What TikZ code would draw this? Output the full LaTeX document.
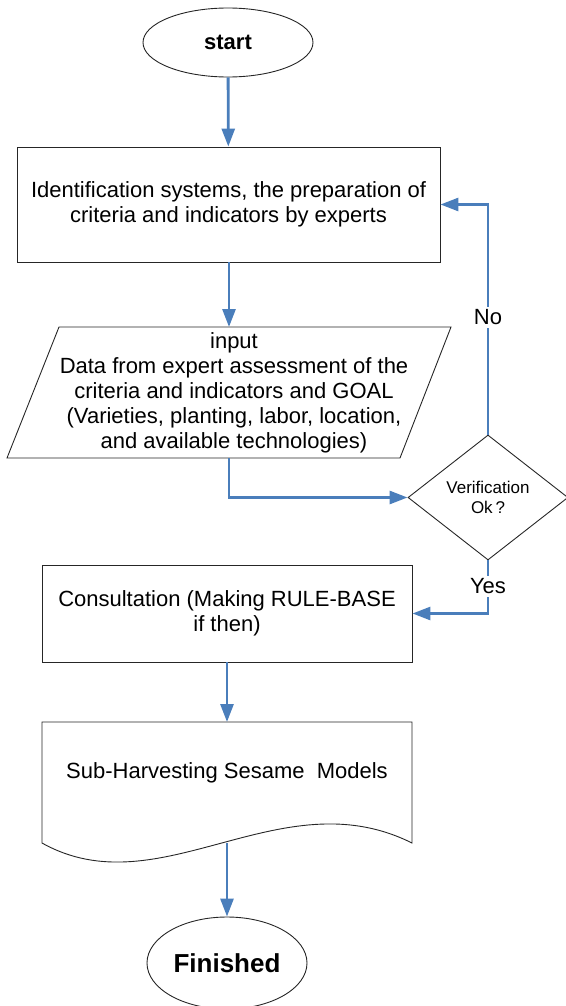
\documentclass[tikz,border=0pt]{standalone}
\usepackage{fontspec}
\setmainfont{Liberation Sans}
\usetikzlibrary{shapes.geometric,arrows.meta}
\definecolor{flowblue}{HTML}{4A7EBB}
\tikzset{
  outline/.style={draw=black!85, line width=0.9pt},
  box/.style={outline, rectangle, inner sep=0pt, align=center,
    font=\fontsize{22}{25.5}\selectfont},
  term/.style={outline, ellipse, inner sep=0pt, font=\bfseries},
  txt/.style={align=center, inner sep=0pt, font=\fontsize{22}{25}\selectfont},
  decision/.style={outline, diamond, inner sep=0pt, align=center,
    font=\fontsize{17}{19.5}\selectfont},
  flow/.style={draw=flowblue, line width=2.8pt,
    -{Triangle[length=18pt,width=13pt]}},
  lbl/.style={fill=white, inner sep=3pt, font=\fontsize{22}{25}\selectfont}
}
\begin{document}
\begin{tikzpicture}[x=1pt, y=-1pt]
\useasboundingbox (0,0) rectangle (565,1006);

% terminals
\node[term, minimum width=170pt, minimum height=69pt,
      font=\bfseries\fontsize{22}{25}\selectfont] (start) at (228,42.5) {start};
\node[term, minimum width=160pt, minimum height=92pt,
      font=\bfseries\fontsize{26}{30}\selectfont] (finish) at (227,963) {Finished};

% process boxes
\node[box, minimum width=423pt, minimum height=115pt] (ident) at (228.5,204.5)
  {Identification systems, the preparation of\\criteria and indicators by experts};
\node[box, minimum width=370pt, minimum height=97pt] (consult) at (227,613.5)
  {Consultation (Making RULE-BASE\\if then)};

% input / output parallelogram
\draw[outline] (59,327) -- (451,327) -- (400,458) -- (7,458) -- cycle;
\node[txt] (input) at (234,392.5)
  {input\\Data from expert assessment of the\\criteria and indicators and GOAL\\(Varieties, planting, labor, location,\\and available technologies)};
\coordinate (inTop) at (229,327);
\coordinate (inBot) at (229,458);

% decision
\node[decision, minimum width=160pt, minimum height=125pt] (check) at (488,497.5)
  {Verification\\Ok\,?};

% document shape
\draw[outline] (42,722) -- (412,722) -- (412,843)
  .. controls (280,777) and (160,909) .. (42,843) -- cycle;
\node[txt] (models) at (227,773) {Sub-Harvesting Sesame\ \ Models};
\coordinate (docTop) at (227,722);
\coordinate (docBot) at (227,843);

% connectors
\draw[flow] (start) -- (ident);
\draw[flow] (ident.south -| inTop) -- (inTop);
\draw[flow] (inBot) |- (check.west);
\draw[flow] (check.north) |- node[lbl, pos=0.255] (no) {No} (ident.east);
\draw[flow] (check.south) |- node[lbl, pos=0.245] (yes) {Yes} (consult.east);
\draw[flow] (consult.south) -- (docTop);
\draw[flow] (docBot) -- (finish.north);
\end{tikzpicture}
\end{document}
